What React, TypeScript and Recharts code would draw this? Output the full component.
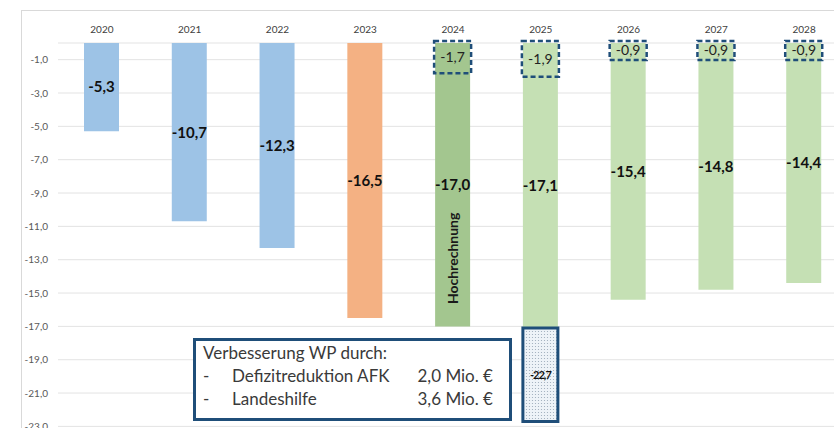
import { Bar, BarChart, CartesianGrid, Cell, LabelList, XAxis, YAxis } from "recharts";

const jahre = ["2020", "2021", "2022", "2023", "2024", "2025", "2026", "2027", "2028"];
// Defizit in Mio. €
const defizit = [-5.3, -10.7, -12.3, -16.5, -17.0, -17.1, -15.4, -14.8, -14.4];
const art = ["ist", "ist", "ist", "vorjahr", "hochrechnung", "plan", "plan", "plan", "plan"];
const verbesserung = [null, null, null, null, -1.7, -1.9, -0.9, -0.9, -0.9];
const ohneVerbesserung = [null, null, null, null, null, -5.6, null, null, null];
const hinweise = ["", "", "", "", "Hochrechnung", "", "", "", ""];
const yTicks = [0, -1, -3, -5, -7, -9, -11, -13, -15, -17, -19, -21, -23];

const infoTitel = "Verbesserung WP durch:";
const infoPosten = ["Defizitreduktion AFK", "Landeshilfe"];
const infoBetraege = ["2,0 Mio. €", "3,6 Mio. €"];

const farben: Record<string, string> = {
  ist: "#9DC3E6",
  vorjahr: "#F4B183",
  hochrechnung: "#A3C68F",
  plan: "#C5E0B4",
};

const data = jahre.map((jahr, i) => ({
  jahr,
  defizit: defizit[i],
  verbesserung: verbesserung[i],
  ohne: ohneVerbesserung[i],
  summe: ohneVerbesserung[i] == null ? null : defizit[i] + (ohneVerbesserung[i] as number),
  hinweis: hinweise[i],
}));

const font = "Lato, 'Open Sans', sans-serif";
const dunkelblau = "#1F4E79";
const fmt = (v: any) => (v == null || v === "" ? "" : Number(v).toFixed(1).replace(".", ","));

const DashedBox = (props: any) => {
  const { x, y, width, height } = props;
  if (!height) return null;
  const top = Math.min(y, y + height);
  const h = Math.abs(height);
  return (
    <rect x={x - 1} y={top - 2} width={width + 2} height={h + 4} fill="none"
      stroke={dunkelblau} strokeWidth={2.5} strokeDasharray="5 3" />
  );
};

const HinweisLabel = (p: any) => {
  if (!p.value) return null;
  const vb = p.viewBox ?? p;
  const x = vb.x ?? p.x;
  const y = vb.y ?? p.y;
  const w = vb.width ?? p.width;
  const h = vb.height ?? p.height;
  const cx = x + w / 2;
  const top = Math.min(y, y + h);
  const cy = top + Math.abs(h) * 0.76;
  return (
    <text x={cx} y={cy} transform={`rotate(-90 ${cx} ${cy})`} textAnchor="middle"
      dominantBaseline="central" fontFamily={font} fontWeight="bold" fontSize={14} fill="#1a1a1a">
      {p.value}
    </text>
  );
};

export default function App() {
  return (
    <div style={{ position: "absolute", left: 0, top: 0, width: 834, height: 428, overflow: "hidden", background: "#fff" }}>
      <div style={{ position: "absolute", left: 21, top: 10, width: 900, height: 500, borderLeft: "1px solid #D9D9D9", borderTop: "1px solid #D9D9D9" }} />
      <div style={{ position: "absolute", left: 0, top: 0 }}>
        <BarChart width={860} height={440} data={data} barSize={35}
          margin={{ top: 23, right: 12, left: 0, bottom: 13.6 }}>
          <defs>
            <pattern id="punkte" width="3" height="3" patternUnits="userSpaceOnUse">
              <rect width="3" height="3" fill="#EEF3F8" />
              <circle cx="1.5" cy="1.5" r="0.6" fill="#9AA8B8" />
            </pattern>
          </defs>
          <CartesianGrid stroke="#E3E3E3" vertical={false} />
          <XAxis dataKey="jahr" orientation="top" height={20} tickLine={false} axisLine={false}
            tickSize={0} tickMargin={10} interval={0}
            tick={{ fontSize: 10, fill: "#404040", fontFamily: font }} />
          <XAxis xAxisId="box" dataKey="jahr" orientation="top" hide />
          <YAxis domain={[-23, 0]} ticks={yTicks} width={58} tickLine={false} axisLine={false}
            tickSize={0} tickMargin={10} interval={0}
            tickFormatter={(v) => (v === 0 ? "" : fmt(v))}
            tick={{ fontSize: 10, fill: "#595959", fontFamily: font }} />
          <Bar dataKey="defizit" stackId="a" isAnimationActive={false}>
            {data.map((d, i) => (
              <Cell key={d.jahr} fill={farben[art[i]]} />
            ))}
            <LabelList dataKey="defizit" position="center" formatter={fmt}
              style={{ fontFamily: font, fontSize: 15, fontWeight: "bold", fill: "#111" }} />
            <LabelList dataKey="hinweis" content={HinweisLabel} />
          </Bar>
          <Bar dataKey="ohne" stackId="a" fill="url(#punkte)" stroke={dunkelblau} strokeWidth={3}
            isAnimationActive={false}>
            <LabelList dataKey="summe" position="center" formatter={fmt}
              style={{ fontFamily: font, fontSize: 11, fontWeight: "bold", fill: "#111", letterSpacing: -1 }} />
          </Bar>
          <Bar dataKey="verbesserung" xAxisId="box" shape={DashedBox} isAnimationActive={false}>
            <LabelList dataKey="verbesserung" position="center" formatter={fmt}
              style={{ fontFamily: font, fontSize: 14, fill: "#222" }} />
          </Bar>
        </BarChart>
      </div>
      <div style={{
        position: "absolute", left: 193, top: 338, width: 313, height: 74,
        border: `3px solid ${dunkelblau}`, background: "#fff", fontFamily: font,
        fontSize: 17, color: "#3a3a3a", lineHeight: "23px", paddingTop: 3, boxSizing: "content-box",
      }}>
        <div style={{ paddingLeft: 7, marginTop: -3 }}>{infoTitel}</div>
        {infoPosten.map((p, i) => (
          <div key={p} style={{ display: "flex", paddingLeft: 7, paddingRight: 16 }}>
            <span style={{ width: 29 }}>-</span>
            <span style={{ flex: 1 }}>{p}</span>
            <span>{infoBetraege[i]}</span>
          </div>
        ))}
      </div>
    </div>
  );
}
